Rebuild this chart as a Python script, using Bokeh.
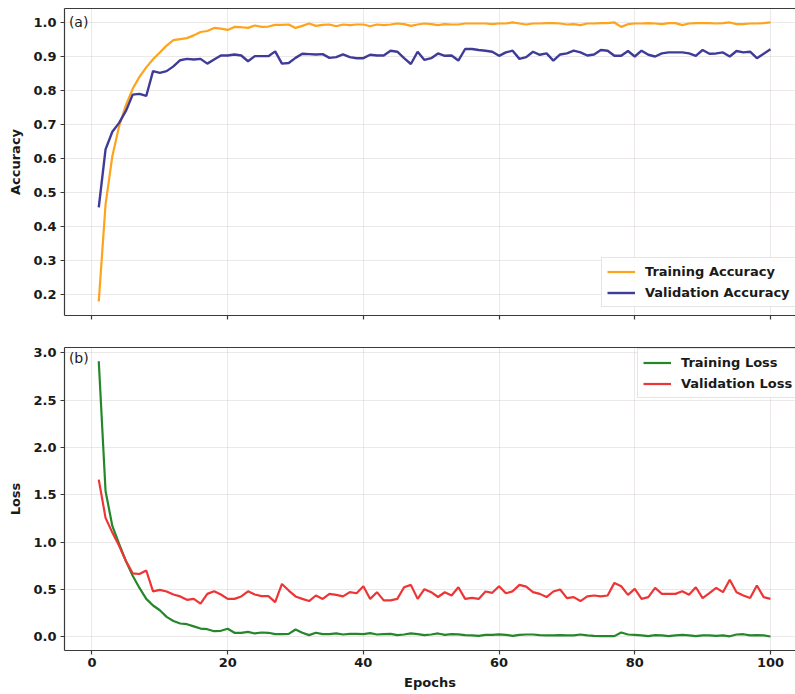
from bokeh.plotting import figure
from bokeh.layouts import column
from bokeh.models import (Range1d, FixedTicker, PrintfTickFormatter, Legend, LegendItem,
                          Label, LinearAxis)
from bokeh.embed import file_html
from bokeh.resources import INLINE

epochs = list(range(1, 101))

train_acc = [
    0.180, 0.465, 0.607, 0.695, 0.757, 0.805, 0.840, 0.868, 0.892, 0.912,
    0.932, 0.948, 0.951, 0.954, 0.962, 0.972, 0.975, 0.984, 0.982, 0.978,
    0.987, 0.986, 0.984, 0.991, 0.987, 0.988, 0.993, 0.993, 0.994, 0.984,
    0.990, 0.997, 0.990, 0.993, 0.994, 0.989, 0.994, 0.992, 0.994, 0.994,
    0.989, 0.994, 0.992, 0.994, 0.997, 0.995, 0.990, 0.994, 0.997, 0.995,
    0.992, 0.995, 0.994, 0.994, 0.997, 0.997, 0.997, 0.997, 0.995, 0.997,
    0.997, 1.000, 0.997, 0.994, 0.997, 0.997, 0.998, 0.998, 0.997, 0.994,
    0.995, 0.992, 0.997, 0.997, 0.998, 0.998, 1.000, 0.987, 0.995, 0.997,
    0.997, 0.998, 0.997, 0.995, 0.998, 0.998, 0.992, 0.997, 0.998, 0.998,
    0.998, 0.997, 0.998, 1.000, 0.995, 0.995, 0.997, 0.997, 0.998, 1.000,
]

val_acc = [
    0.457, 0.627, 0.679, 0.705, 0.740, 0.788, 0.790, 0.784, 0.857, 0.852,
    0.857, 0.871, 0.889, 0.893, 0.891, 0.893, 0.879, 0.891, 0.903, 0.903,
    0.906, 0.903, 0.886, 0.901, 0.901, 0.901, 0.915, 0.879, 0.881, 0.896,
    0.908, 0.907, 0.906, 0.907, 0.896, 0.898, 0.906, 0.898, 0.895, 0.895,
    0.905, 0.903, 0.903, 0.917, 0.914, 0.895, 0.878, 0.914, 0.890, 0.895,
    0.909, 0.902, 0.903, 0.888, 0.922, 0.922, 0.919, 0.917, 0.914, 0.902,
    0.912, 0.917, 0.893, 0.898, 0.914, 0.905, 0.909, 0.888, 0.906, 0.909,
    0.917, 0.912, 0.903, 0.906, 0.919, 0.917, 0.902, 0.902, 0.916, 0.900,
    0.917, 0.905, 0.900, 0.909, 0.912, 0.912, 0.912, 0.909, 0.902, 0.919,
    0.908, 0.909, 0.912, 0.900, 0.916, 0.912, 0.914, 0.895, 0.908, 0.921,
]

train_loss = [
    2.910, 1.540, 1.170, 0.980, 0.800, 0.645, 0.516, 0.400, 0.330, 0.280,
    0.210, 0.167, 0.140, 0.133, 0.110, 0.087, 0.080, 0.059, 0.063, 0.084,
    0.042, 0.042, 0.052, 0.035, 0.045, 0.042, 0.028, 0.028, 0.031, 0.077,
    0.042, 0.017, 0.042, 0.028, 0.028, 0.035, 0.024, 0.031, 0.031, 0.028,
    0.038, 0.024, 0.028, 0.031, 0.017, 0.024, 0.035, 0.028, 0.017, 0.024,
    0.035, 0.020, 0.028, 0.025, 0.017, 0.014, 0.010, 0.020, 0.020, 0.025,
    0.020, 0.010, 0.020, 0.024, 0.024, 0.017, 0.014, 0.014, 0.017, 0.014,
    0.014, 0.024, 0.014, 0.010, 0.007, 0.007, 0.007, 0.045, 0.024, 0.021,
    0.014, 0.007, 0.017, 0.014, 0.007, 0.014, 0.021, 0.014, 0.007, 0.014,
    0.014, 0.010, 0.014, 0.005, 0.024, 0.027, 0.014, 0.017, 0.014, 0.003,
]

val_loss = [
    1.660, 1.256, 1.100, 0.960, 0.800, 0.670, 0.663, 0.700, 0.480, 0.495,
    0.478, 0.446, 0.426, 0.390, 0.400, 0.349, 0.453, 0.480, 0.446, 0.400,
    0.400, 0.426, 0.480, 0.446, 0.430, 0.430, 0.366, 0.558, 0.488, 0.426,
    0.400, 0.377, 0.436, 0.400, 0.453, 0.443, 0.426, 0.471, 0.460, 0.534,
    0.400, 0.471, 0.384, 0.384, 0.400, 0.523, 0.548, 0.400, 0.503, 0.471,
    0.420, 0.470, 0.436, 0.523, 0.400, 0.410, 0.400, 0.478, 0.464, 0.534,
    0.460, 0.480, 0.548, 0.530, 0.471, 0.453, 0.419, 0.478, 0.499, 0.408,
    0.419, 0.377, 0.426, 0.436, 0.426, 0.436, 0.569, 0.534, 0.443, 0.506,
    0.400, 0.419, 0.516, 0.453, 0.453, 0.453, 0.480, 0.443, 0.523, 0.408,
    0.460, 0.516, 0.471, 0.603, 0.471, 0.436, 0.410, 0.541, 0.419, 0.400,
]

x_ticks = [0, 20, 40, 60, 80, 100]
acc_ticks = [0.2, 0.3, 0.4, 0.5, 0.6, 0.7, 0.8, 0.9, 1.0]
loss_ticks = [0.0, 0.5, 1.0, 1.5, 2.0, 2.5, 3.0]

C_TRAIN_ACC = "#FFA31A"
C_VAL_ACC = "#3F3C98"
C_TRAIN_LOSS = "#24872A"
C_VAL_LOSS = "#EE3535"

FONT = "DejaVu Sans"
SPINE = "#3a3a3a"
W = 795
X_START, X_END = -4.05, 103.69


def style(p, yticks, ylabel):
    """Style the default bottom/left axes; return the bottom axis."""
    p.background_fill_color = "white"
    p.border_fill_color = "white"
    p.outline_line_color = None
    bx = p.below[0]
    ly = p.left[0]
    bx.ticker = FixedTicker(ticks=x_ticks)
    ly.ticker = FixedTicker(ticks=yticks)
    ly.formatter = PrintfTickFormatter(format="%.1f")
    bx.formatter = PrintfTickFormatter(format="%d")
    for ax in (bx, ly):
        ax.axis_line_color = SPINE
        ax.axis_line_width = 1.2
        ax.minor_tick_line_color = None
        ax.major_tick_line_color = SPINE
        ax.major_tick_line_width = 1.2
        ax.major_tick_out = 4
        ax.major_tick_in = 0
        ax.major_label_text_font = FONT
        ax.major_label_text_font_style = "bold"
        ax.major_label_text_font_size = "13px"
        ax.major_label_text_color = "#1a1a1a"
        ax.major_label_standoff = 4
        ax.axis_label_text_font = FONT
        ax.axis_label_text_font_style = "bold"
        ax.axis_label_text_font_size = "13px"
        ax.axis_label_text_color = "#1a1a1a"
    ly.axis_label = ylabel
    ly.axis_label_standoff = 7
    for g in (p.xgrid, p.ygrid):
        g.grid_line_color = "#c8bcbc"
        g.grid_line_alpha = 0.35
        g.grid_line_width = 1
    # top spine only (the right spine lies outside the cropped reference)
    top = LinearAxis(ticker=FixedTicker(ticks=[]), axis_line_color=SPINE, axis_line_width=1.2,
                     major_tick_line_color=None, minor_tick_line_color=None,
                     major_label_text_font_size="1px", major_label_standoff=0)
    p.add_layout(top, "above")
    return bx


def make_legend(p, items, location):
    leg = Legend(items=items, location=location)
    leg.label_text_font = FONT
    leg.label_text_font_style = "bold"
    leg.label_text_font_size = "13px"
    leg.label_text_color = "#1a1a1a"
    leg.glyph_width = 28
    leg.glyph_height = 17
    leg.label_height = 17
    leg.label_standoff = 10
    leg.spacing = 4
    leg.padding = 5
    leg.margin = 0
    leg.border_line_color = "#cccccc"
    leg.border_line_width = 1
    leg.background_fill_color = "white"
    leg.background_fill_alpha = 0.85
    p.add_layout(leg)
    return leg


# --- top: accuracy ---
p1 = figure(width=W, height=331, output_backend="svg", toolbar_location=None,
            x_range=Range1d(X_START, X_END), y_range=Range1d(0.139, 1.041),
            min_border_left=64, min_border_right=0, min_border_top=8, min_border_bottom=16)
bx1 = style(p1, acc_ticks, "Accuracy")
bx1.major_label_overrides = {t: "" for t in x_ticks}
bx1.major_label_text_font_size = "1px"
bx1.major_label_standoff = 0
r_ta = p1.line(epochs, train_acc, line_color=C_TRAIN_ACC, line_width=2.2)
r_va = p1.line(epochs, val_acc, line_color=C_VAL_ACC, line_width=2.4)
make_legend(p1, [LegendItem(label="Training Accuracy", renderers=[r_ta]),
                 LegendItem(label="Validation Accuracy", renderers=[r_va])], (537, 8))
p1.add_layout(Label(x=-3.4, y=1.0, text="(a)", text_font=FONT, text_font_size="14px",
                    text_baseline="middle", text_color="#1a1a1a"))

# --- bottom: loss ---
p2 = figure(width=W, height=363, output_backend="svg", toolbar_location=None,
            x_range=Range1d(X_START, X_END), y_range=Range1d(-0.145, 3.055),
            min_border_left=64, min_border_right=0, min_border_top=16, min_border_bottom=44)
bx2 = style(p2, loss_ticks, "Loss")
bx2.axis_label = "Epochs"
bx2.major_label_standoff = 3
bx2.axis_label_standoff = 5
r_tl = p2.line(epochs, train_loss, line_color=C_TRAIN_LOSS, line_width=2.2)
r_vl = p2.line(epochs, val_loss, line_color=C_VAL_LOSS, line_width=2.2)
make_legend(p2, [LegendItem(label="Training Loss", renderers=[r_tl]),
                 LegendItem(label="Validation Loss", renderers=[r_vl])], (573, 252))
p2.add_layout(Label(x=-3.4, y=2.94, text="(b)", text_font=FONT, text_font_size="14px",
                    text_baseline="middle", text_color="#1a1a1a"))

layout = column(p1, p2, spacing=0)
open("out.html", "w").write(file_html(layout, INLINE))
